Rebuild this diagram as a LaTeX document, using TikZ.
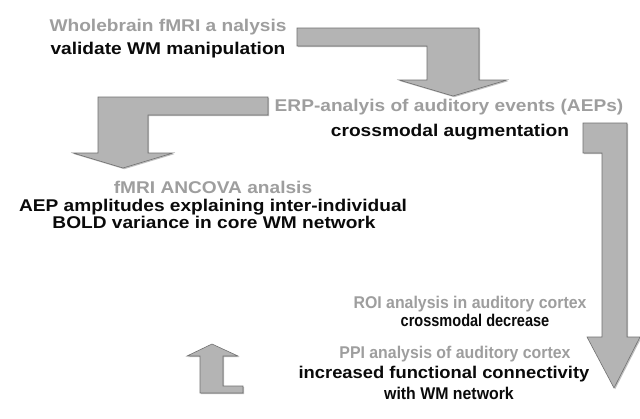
\documentclass[tikz,border=0pt]{standalone}
\usepackage{fontspec}
\usepackage{graphicx}
\setmainfont[FakeStretch=1.125]{Liberation Sans}
\usetikzlibrary{shadows}
\definecolor{txtgray}{RGB}{158,158,158}
\definecolor{txtblack}{RGB}{10,10,10}
\definecolor{arrowfill}{RGB}{180,180,180}
\definecolor{arrowline}{RGB}{112,112,112}
\tikzset{
  lbl/.style={inner sep=0pt, anchor=base, font=\fontsize{17}{20}\selectfont\bfseries},
  glbl/.style={lbl, text=txtgray},
  blbl/.style={lbl, text=txtblack},
  blockarrow/.style={fill=arrowfill, draw=arrowline, line width=0.6pt, line join=miter,
    drop shadow={shadow xshift=1.2pt, shadow yshift=-1.2pt, opacity=0.25, fill=black}}
}
\begin{document}
\begin{tikzpicture}[x=1pt,y=-1pt]
\useasboundingbox[fill=white] (0,0) rectangle (640,418);
% block arrows
\path[blockarrow] (297,28) -- (479,28) -- (479,80) -- (507,80) -- (453,96) -- (399,80) -- (427,80) -- (427,46) -- (297,46) -- cycle;
\path[blockarrow] (268,97) -- (98,97) -- (98,153) -- (73,153) -- (123,168) -- (173,153) -- (148,153) -- (148,115) -- (268,115) -- cycle;
\path[blockarrow] (583,123) -- (627,123) -- (627,337) -- (640,337) -- (614,388) -- (587,337) -- (602,337) -- (602,153) -- (583,153) -- cycle;
\path[blockarrow] (212,344) -- (238,356) -- (223,356) -- (223,386) -- (243,386) -- (243,393) -- (200,393) -- (200,356) -- (187,356) -- cycle;
% texts
\node[glbl] (t1) at (168,31) {Wholebrain fMRI a nalysis};
\node[blbl] (t2) at (168,54) {validate WM manipulation};
\node[glbl] (t3) at (449,111) {ERP-analyis of auditory events (AEPs)};
\node[blbl] (t4) at (450,136) {crossmodal augmentation};
\node[glbl] (t5) at (213,193) {fMRI ANCOVA analsis};
\node[blbl] (t6) at (213,211) {AEP amplitudes explaining inter-individual};
\node[blbl] (t7) at (214,228) {BOLD variance in core WM network};
\node[glbl] (t8) at (470,308) {\scalebox{0.83}[1]{ROI analysis in auditory cortex}};
\node[blbl] (t9) at (475,326) {\scalebox{0.76}[1]{crossmodal decrease}};
\node[glbl] (t10) at (455,358) {\scalebox{0.83}[1]{PPI analysis of auditory cortex}};
\node[blbl] (t11) at (444,378) {\scalebox{0.96}[1]{increased functional connectivity}};
\node[blbl] (t12) at (449,399) {\scalebox{0.83}[1]{with WM network}};
\end{tikzpicture}
\end{document}
